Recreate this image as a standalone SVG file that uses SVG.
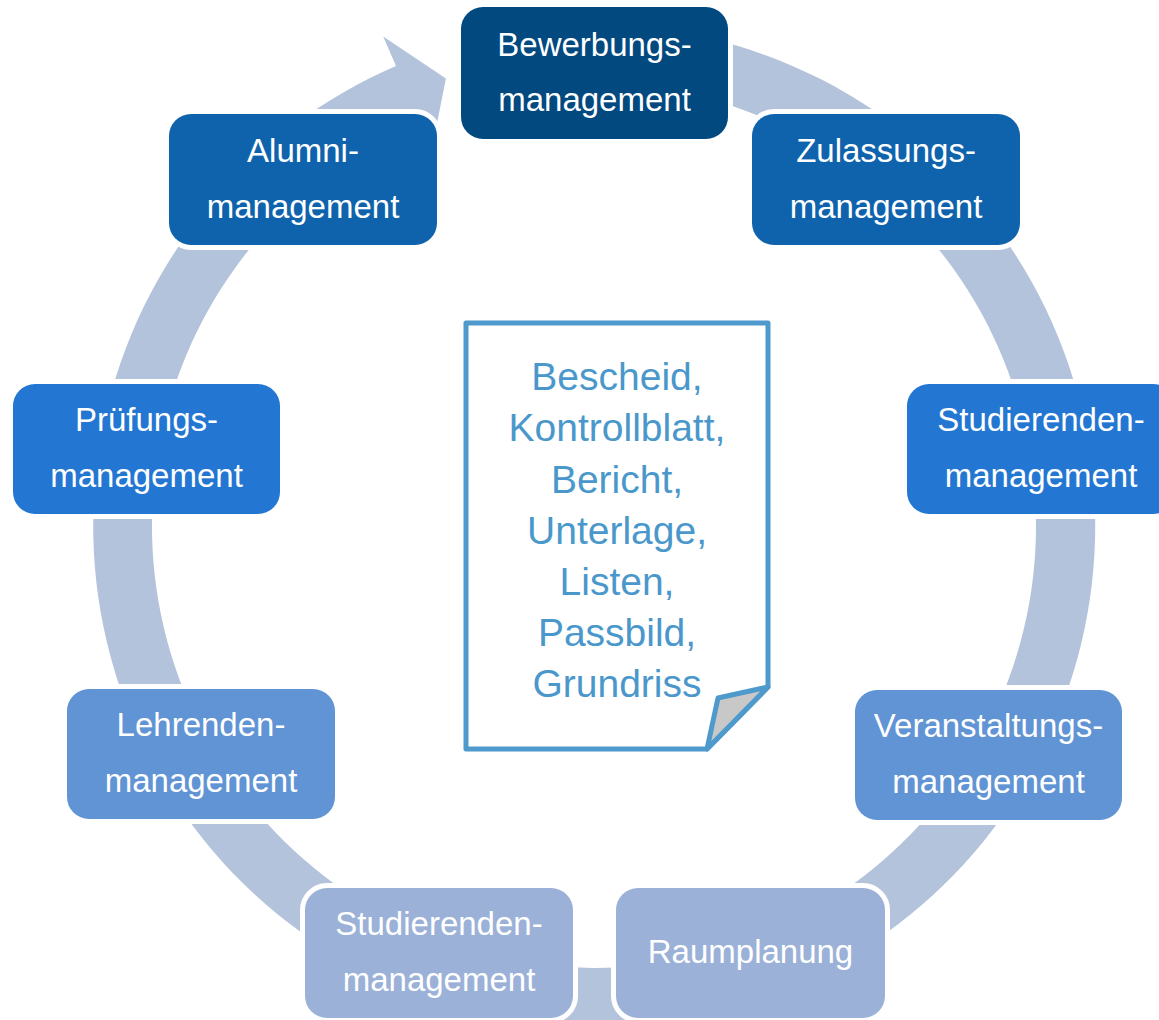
<svg xmlns="http://www.w3.org/2000/svg" width="1159" height="1020" viewBox="0 0 1159 1020">
<style>
.box{stroke:#fff;stroke-width:10;paint-order:stroke}
.t{font-family:"Liberation Sans",Arial,sans-serif;font-size:33px;fill:#fff;text-anchor:middle}
.d{font-family:"Liberation Sans",Arial,sans-serif;font-size:39px;fill:#4A98CB;text-anchor:middle}
.c1{fill:#02497F}.c2{fill:#0F63AD}.c3{fill:#2377D2}.c4{fill:#6094D4}.c5{fill:#9BB1D7}
</style>
<rect width="1159" height="1020" fill="#fff"/>
<g id="connectors">
<path d="M681.0,32.6 A501,501 0 1 1 396.0,65.9 L383.2,36.5 L445.9,78.4 L431.8,149.4 L419.2,120.0 A442,442 0 1 0 670.8,90.7 Z" fill="#B4C3DC"/>
</g>
<g id="n1"><rect class="box c1" x="461" y="7" width="267" height="132" rx="22"/><text class="t" x="594.5" y="56">Bewerbungs-</text><text class="t" x="594.5" y="111">management</text></g>
<g id="n2"><rect class="box c2" x="752" y="114" width="268" height="131" rx="22"/><text class="t" x="886" y="162">Zulassungs-</text><text class="t" x="886" y="218">management</text></g>
<g id="n3"><rect class="box c3" x="907" y="384" width="268" height="130" rx="22"/><text class="t" x="1041" y="431">Studierenden-</text><text class="t" x="1041" y="487">management</text></g>
<g id="n4"><rect class="box c4" x="855" y="690" width="267" height="130" rx="22"/><text class="t" x="988.5" y="737">Veranstaltungs-</text><text class="t" x="988.5" y="793">management</text></g>
<g id="n5"><rect class="box c5" x="616" y="888" width="269" height="130" rx="22"/><text class="t" x="750.5" y="963">Raumplanung</text></g>
<g id="n6"><rect class="box c5" x="305" y="888" width="268" height="130" rx="22"/><text class="t" x="439" y="935">Studierenden-</text><text class="t" x="439" y="991">management</text></g>
<g id="n7"><rect class="box c4" x="67" y="689" width="268" height="130" rx="22"/><text class="t" x="201" y="736">Lehrenden-</text><text class="t" x="201" y="792">management</text></g>
<g id="n8"><rect class="box c3" x="13" y="384" width="267" height="130" rx="22"/><text class="t" x="146.5" y="431">Prüfungs-</text><text class="t" x="146.5" y="487">management</text></g>
<g id="n9"><rect class="box c2" x="169" y="114" width="268" height="131" rx="22"/><text class="t" x="303" y="162">Alumni-</text><text class="t" x="303" y="218">management</text></g>
<g id="doc">
<path d="M466,323 H768 V687 L707,749 H466 Z" fill="#fff" stroke="#4F9ACC" stroke-width="5" stroke-linejoin="round"/>
<path d="M707,749 L718,698 L768,687 Z" fill="#C8C8C8" stroke="#4F9ACC" stroke-width="5" stroke-linejoin="round"/>
<text class="d" x="617" y="390">Bescheid,</text>
<text class="d" x="617" y="441">Kontrollblatt,</text>
<text class="d" x="617" y="492.5">Bericht,</text>
<text class="d" x="617" y="544">Unterlage,</text>
<text class="d" x="617" y="595">Listen,</text>
<text class="d" x="617" y="646">Passbild,</text>
<text class="d" x="617" y="697">Grundriss</text>
</g>
</svg>
